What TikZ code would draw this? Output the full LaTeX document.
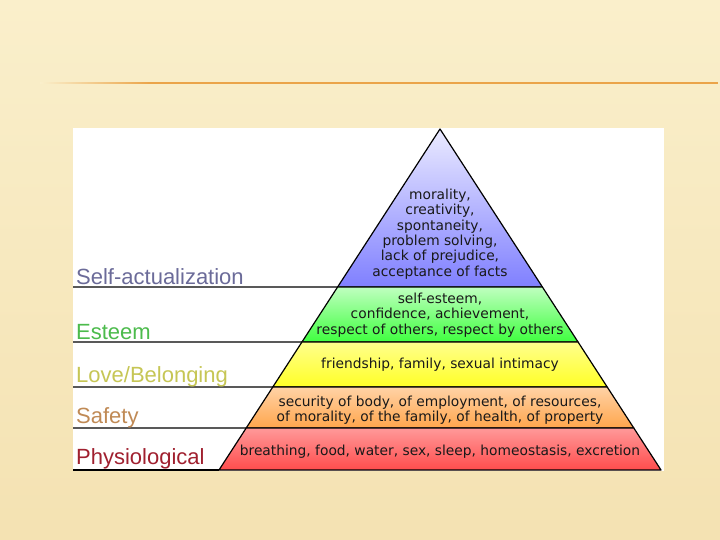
\documentclass[tikz,border=0pt]{standalone}
\usepackage{fontspec}
\setmainfont{DejaVu Sans}
\newfontfamily\lvlfont{Liberation Sans}
\usepackage{tikz}
\usetikzlibrary{calc}
\usepackage{xcolor}
\definecolor{cream}{HTML}{FAEFCB}
\definecolor{creamdk}{HTML}{F4E2B2}
\definecolor{rule}{HTML}{EBA449}
\definecolor{selfc}{HTML}{6B6B99}
\definecolor{esteemc}{HTML}{4CBB4C}
\definecolor{lovec}{HTML}{C6C655}
\definecolor{safec}{HTML}{C08A55}
\definecolor{physc}{HTML}{A0202F}

\begin{document}
\begin{tikzpicture}[x=1pt, y=-1pt, every node/.style={font=\fontsize{13.8}{15.4}\selectfont, text=black!90, align=center, inner sep=0pt}]
\tikzset{tier/.style={draw=black, line width=1.2pt, line join=round}}
\tikzset{lvl/.style={font=\lvlfont\fontsize{22}{24}\selectfont, anchor=base west}}
\useasboundingbox (0,0) rectangle (720,540);
\shade[top color=cream, bottom color=creamdk] (0,0) rectangle (720,540);
\shade[left color=cream, right color=rule] (40,82.3) rectangle (150,83.7);
\fill[rule] (150,82.3) rectangle (718,83.7);
\fill[white] (73,128) rectangle (664,471);
\coordinate (apex) at (440,129);
\coordinate (bl) at (219,470); \coordinate (br) at (661,470);
\coordinate (l1) at ($(apex)!0.4633!(bl)$); \coordinate (r1) at ($(apex)!0.4633!(br)$);
\coordinate (l2) at ($(apex)!0.6246!(bl)$); \coordinate (r2) at ($(apex)!0.6246!(br)$);
\coordinate (l3) at ($(apex)!0.7566!(bl)$); \coordinate (r3) at ($(apex)!0.7566!(br)$);
\coordinate (l4) at ($(apex)!0.8768!(bl)$); \coordinate (r4) at ($(apex)!0.8768!(br)$);
% pyramid tiers
\shade[tier, top color=blue!8, bottom color=blue!50!white] (apex) -- (r1) -- (l1) -- cycle;
\shade[tier, top color=green!25!white, bottom color=green!75!white] (l1) -- (r1) -- (r2) -- (l2) -- cycle;
\shade[tier, top color=yellow!45!white, bottom color=yellow!85!white] (l2) -- (r2) -- (r3) -- (l3) -- cycle;
\shade[tier, top color=orange!35!white, bottom color=orange!70!white] (l3) -- (r3) -- (r4) -- (l4) -- cycle;
\shade[tier, top color=red!40!white, bottom color=red!70!white] (l4) -- (r4) -- (br) -- (bl) -- cycle;
% rules to the labels
\draw[line width=1.2pt] (73,287) -- (l1); \draw[line width=1.2pt] (73,342) -- (l2);
\draw[line width=1.2pt] (73,387) -- (l3); \draw[line width=1.2pt] (73,428) -- (l4);
\draw[line width=1.2pt] (73,470) -- (bl);
\node (selftxt) at (440,234) {morality,\\creativity,\\spontaneity,\\problem solving,\\lack of prejudice,\\acceptance of facts};
\node (esteemtxt) at (440,315) {self-esteem,\\confidence, achievement,\\respect of others, respect by others};
\node (lovetxt) at (440,365) {friendship, family, sexual intimacy};
\node (safetxt) at (440,410) {security of body, of employment, of resources,\\of morality, of the family, of health, of property};
\node (phystxt) at (440,452) {breathing, food, water, sex, sleep, homeostasis, excretion};
\node[lvl, text=selfc] (self) at (76,284) {Self-actualization};
\node[lvl, text=esteemc] (esteem) at (76,339) {Esteem};
\node[lvl, text=lovec] (love) at (76,382) {Love/Belonging};
\node[lvl, text=safec] (safe) at (76,423) {Safety};
\node[lvl, text=physc] (phys) at (76,464) {Physiological};
\end{tikzpicture}
\end{document}
